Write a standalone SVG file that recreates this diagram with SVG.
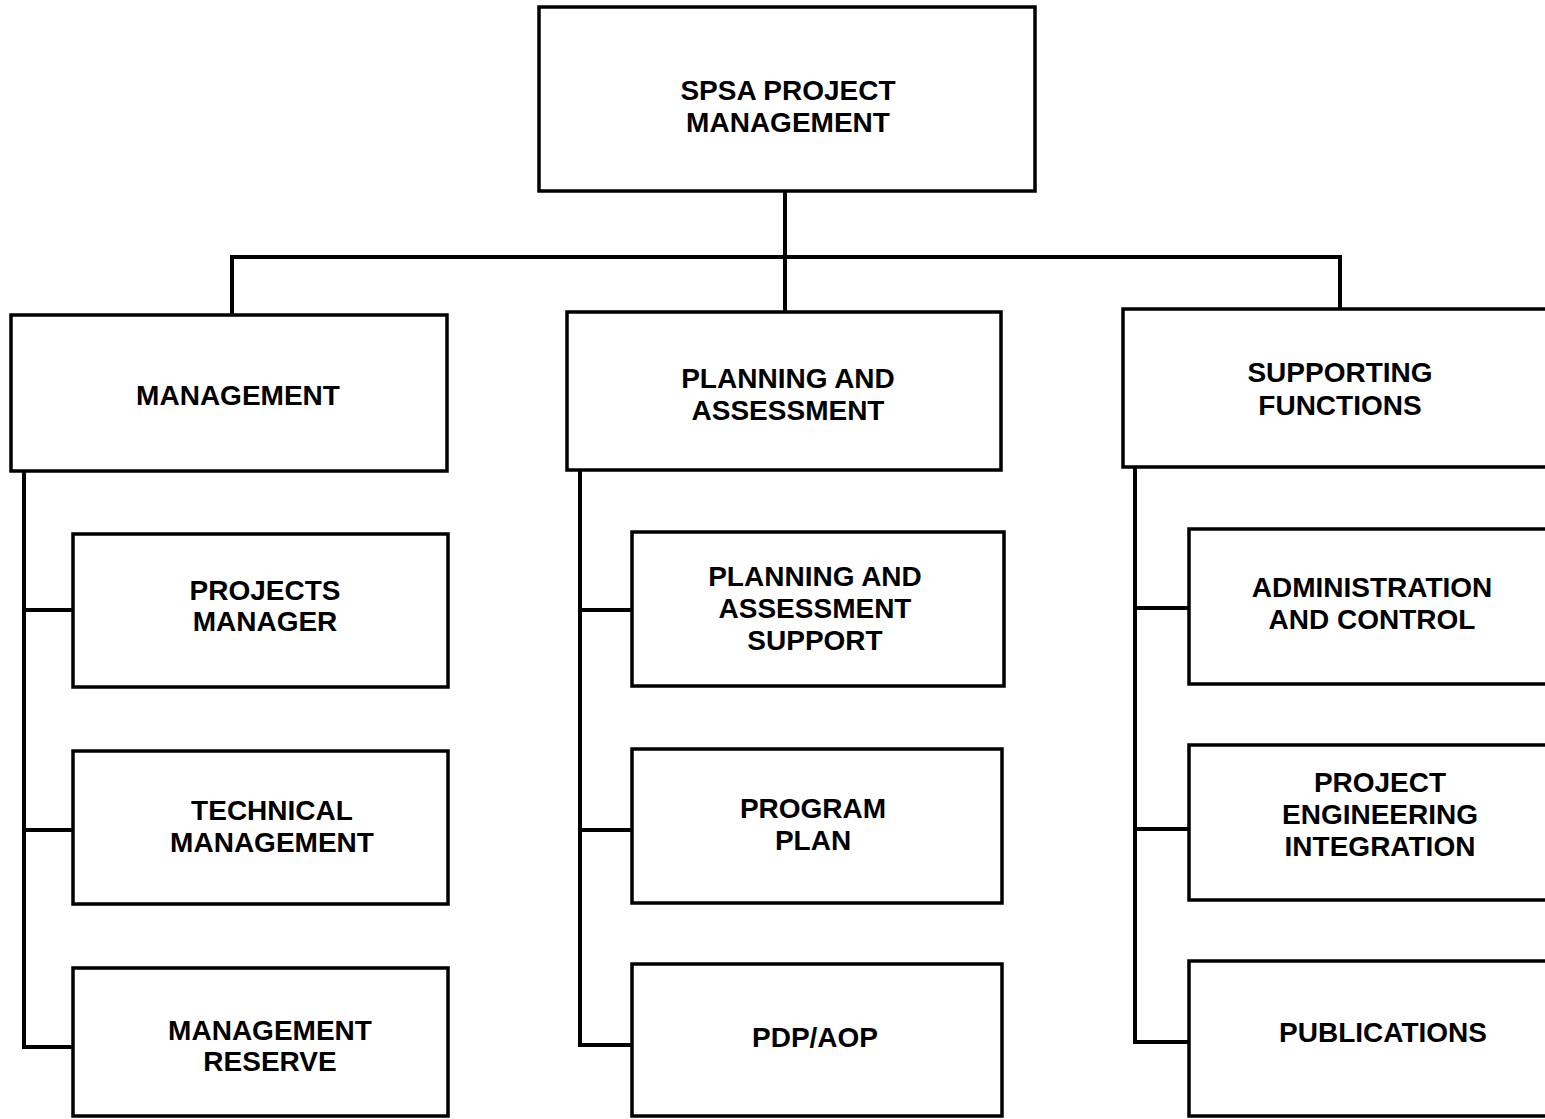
<svg xmlns="http://www.w3.org/2000/svg" width="1545" height="1119" viewBox="0 0 1545 1119">
<style>
.box{fill:#fff;stroke:#000;stroke-width:3.5}
.ln{fill:none;stroke:#000;stroke-width:4;stroke-linecap:square}
.t{font-family:"Liberation Sans",Arial,sans-serif;font-weight:bold;font-size:28px;text-anchor:middle;fill:#000}
</style>
<rect width="1545" height="1119" fill="#fff"/>
<g id="connectors">
<path class="ln" d="M785,191 V312 M232,257 H1340 M232,257 V315 M1340,257 V309"/>
<path class="ln" d="M24,471 V1047 H73 M24,610 H73 M24,830 H73"/>
<path class="ln" d="M580,470 V1045 H632 M580,610 H632 M580,830 H632"/>
<path class="ln" d="M1135,467 V1042 H1189 M1135,608 H1189 M1135,829 H1189"/>
</g>
<g id="n-top"><rect class="box" x="539" y="7" width="496" height="184"/><text class="t" x="788" y="100">SPSA PROJECT</text><text class="t" x="788" y="132">MANAGEMENT</text></g>
<g id="n-mgmt"><rect class="box" x="11" y="315" width="436" height="156"/><text class="t" x="238" y="405">MANAGEMENT</text></g>
<g id="n-plan"><rect class="box" x="567" y="312" width="434" height="158"/><text class="t" x="788" y="388">PLANNING AND</text><text class="t" x="788" y="420">ASSESSMENT</text></g>
<g id="n-supp"><rect class="box" x="1123" y="309" width="440" height="158"/><text class="t" x="1340" y="382">SUPPORTING</text><text class="t" x="1340" y="415">FUNCTIONS</text></g>
<g id="n-pm"><rect class="box" x="73" y="534" width="375" height="153"/><text class="t" x="265" y="600">PROJECTS</text><text class="t" x="265" y="631">MANAGER</text></g>
<g id="n-tm"><rect class="box" x="73" y="751" width="375" height="153"/><text class="t" x="272" y="820">TECHNICAL</text><text class="t" x="272" y="852">MANAGEMENT</text></g>
<g id="n-mr"><rect class="box" x="73" y="968" width="375" height="148"/><text class="t" x="270" y="1040">MANAGEMENT</text><text class="t" x="270" y="1071">RESERVE</text></g>
<g id="n-pas"><rect class="box" x="632" y="532" width="372" height="154"/><text class="t" x="815" y="586">PLANNING AND</text><text class="t" x="815" y="618">ASSESSMENT</text><text class="t" x="815" y="650">SUPPORT</text></g>
<g id="n-pp"><rect class="box" x="632" y="749" width="370" height="154"/><text class="t" x="813" y="818">PROGRAM</text><text class="t" x="813" y="850">PLAN</text></g>
<g id="n-pdp"><rect class="box" x="632" y="964" width="370" height="152"/><text class="t" x="815" y="1047">PDP/AOP</text></g>
<g id="n-ac"><rect class="box" x="1189" y="529" width="374" height="155"/><text class="t" x="1372" y="597">ADMINISTRATION</text><text class="t" x="1372" y="629">AND CONTROL</text></g>
<g id="n-pei"><rect class="box" x="1189" y="745" width="374" height="155"/><text class="t" x="1380" y="792">PROJECT</text><text class="t" x="1380" y="824">ENGINEERING</text><text class="t" x="1380" y="856">INTEGRATION</text></g>
<g id="n-pub"><rect class="box" x="1189" y="961" width="374" height="155"/><text class="t" x="1383" y="1042">PUBLICATIONS</text></g>
</svg>
